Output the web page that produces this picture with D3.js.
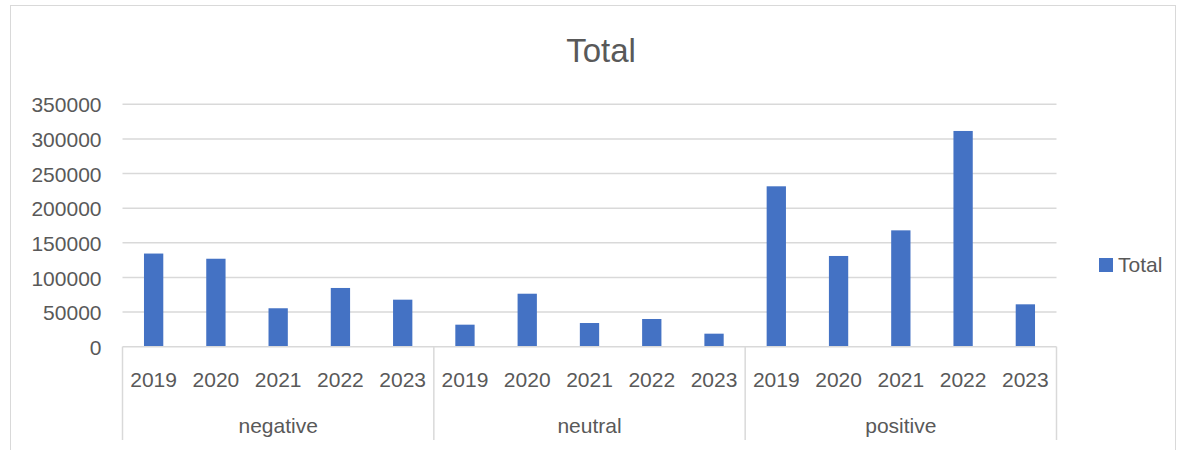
<!DOCTYPE html>
<html>
<head>
<meta charset="utf-8">
<script src="https://cdn.jsdelivr.net/npm/d3@7/dist/d3.min.js"></script>
<style>
  html, body { margin: 0; padding: 0; background: #ffffff; }
  svg { display: block; font-family: "Liberation Sans", Arial, sans-serif; }
</style>
</head>
<body>
<svg id="chart" width="1184" height="450"></svg>
<script>
// Sentiment groups and years on the two-level category axis
const groups = ["negative", "neutral", "positive"];
const years = ["2019", "2020", "2021", "2022", "2023"];

// Totals per year, one array per sentiment group
const negativeValues = [134500, 127000, 55500, 84800, 67900];
const neutralValues = [31800, 76500, 34200, 40000, 18800];
const positiveValues = [231600, 131000, 168000, 311500, 61200];

const yTicks = [0, 50000, 100000, 150000, 200000, 250000, 300000, 350000];
const seriesName = "Total";

const valuesByGroup = {
  negative: negativeValues,
  neutral: neutralValues,
  positive: positiveValues
};

const rows = [];
groups.forEach(g => {
  years.forEach((yr, i) => {
    rows.push({ key: g + "-" + yr, group: g, year: yr, value: valuesByGroup[g][i] });
  });
});

const svg = d3.select("#chart");
const plotLeft = 122.5, plotRight = 1056.5, plotTop = 104.3, plotBottom = 346.7;
const gridColor = "#d9d9d9";
const textColor = "#595959";
const barColor = "#4472c4";

// Chart area frame
svg.append("rect")
  .attr("x", 10.5).attr("y", 5.5)
  .attr("width", 1165).attr("height", 460)
  .attr("fill", "#ffffff")
  .attr("stroke", gridColor).attr("stroke-width", 1);

const x = d3.scaleBand()
  .domain(rows.map(d => d.key))
  .range([plotLeft, plotRight])
  .paddingInner(0.69)
  .paddingOuter(0.345);

const y = d3.scaleLinear()
  .domain([0, 350000])
  .range([plotBottom, plotTop]);

// Horizontal gridlines
svg.append("g")
  .selectAll("line")
  .data(yTicks.filter(t => t > 0))
  .join("line")
  .attr("x1", plotLeft).attr("x2", plotRight)
  .attr("y1", d => y(d)).attr("y2", d => y(d))
  .attr("stroke", gridColor).attr("stroke-width", 1.5);

// Y axis labels
const yAxis = d3.axisLeft(y).tickValues(yTicks).tickSize(0).tickPadding(0)
  .tickFormat(d3.format("d"));
const yg = svg.append("g").attr("transform", `translate(${plotLeft - 21},0)`).call(yAxis);
yg.select(".domain").remove();
yg.selectAll("text")
  .attr("fill", textColor)
  .attr("font-size", 21)
  .attr("font-family", "Liberation Sans, Arial, sans-serif")
  .attr("dy", "0.36em");

// Bars
svg.append("g")
  .selectAll("rect")
  .data(rows)
  .join("rect")
  .attr("x", d => x(d.key))
  .attr("width", x.bandwidth())
  .attr("y", d => y(d.value))
  .attr("height", d => y(0) - y(d.value))
  .attr("fill", barColor);

// Category axis line
svg.append("line")
  .attr("x1", plotLeft).attr("x2", plotRight)
  .attr("y1", plotBottom).attr("y2", plotBottom)
  .attr("stroke", gridColor).attr("stroke-width", 1.5);

// Group separators
const step = x.step();
const groupEdges = d3.range(groups.length + 1).map(i => plotLeft + i * years.length * step);
svg.append("g")
  .selectAll("line")
  .data(groupEdges)
  .join("line")
  .attr("x1", d => d).attr("x2", d => d)
  .attr("y1", plotBottom).attr("y2", 440)
  .attr("stroke", gridColor).attr("stroke-width", 1.5);

// Year labels
svg.append("g")
  .selectAll("text")
  .data(rows)
  .join("text")
  .attr("x", d => x(d.key) + x.bandwidth() / 2)
  .attr("y", 387)
  .attr("text-anchor", "middle")
  .attr("font-size", 21)
  .attr("fill", textColor)
  .text(d => d.year);

// Group labels
svg.append("g")
  .selectAll("text")
  .data(groups)
  .join("text")
  .attr("x", (d, i) => (groupEdges[i] + groupEdges[i + 1]) / 2)
  .attr("y", 433)
  .attr("text-anchor", "middle")
  .attr("font-size", 21)
  .attr("fill", textColor)
  .text(d => d);

// Title
svg.append("text")
  .attr("x", 601).attr("y", 61.5)
  .attr("text-anchor", "middle")
  .attr("font-size", 33)
  .attr("fill", textColor)
  .text(seriesName);

// Legend
svg.append("rect")
  .attr("x", 1099).attr("y", 258)
  .attr("width", 14).attr("height", 14)
  .attr("fill", barColor);
svg.append("text")
  .attr("x", 1118).attr("y", 271.5)
  .attr("font-size", 21)
  .attr("fill", textColor)
  .text(seriesName);
</script>
</body>
</html>
